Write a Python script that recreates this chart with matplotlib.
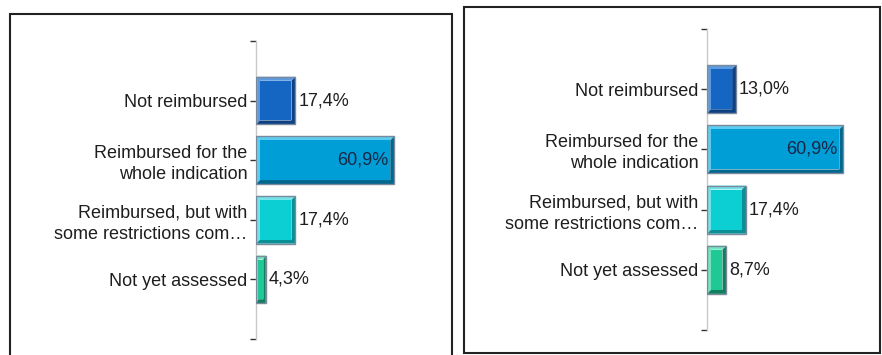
import matplotlib
matplotlib.use("Agg")
import matplotlib.pyplot as plt
from matplotlib.patches import Rectangle, Polygon

plt.rcParams["font.family"] = ["Liberation Sans", "DejaVu Sans"]

categories = [
    "Not reimbursed",
    "Reimbursed for the\nwhole indication",
    "Reimbursed, but with\nsome restrictions com\u2026",
    "Not yet assessed",
]
values_left = [17.4, 60.9, 17.4, 4.3]
values_right = [13.0, 60.9, 17.4, 8.7]
labels_left = ["17,4%", "60,9%", "17,4%", "4,3%"]
labels_right = ["13,0%", "60,9%", "17,4%", "8,7%"]

# face, light bevel, dark bevel
bar_colors = [
    ("#1566c2", "#5d9be0", "#0d4185"),
    ("#009ed6", "#5ccdf0", "#00688f"),
    ("#0ccfd4", "#72e3e8", "#0b8f97"),
    ("#1fc894", "#6fe6bf", "#0f7f5e"),
]

W, H = 882, 355
fig = plt.figure(figsize=(W / 100, H / 100), dpi=100)


def px_rect(x0, y_top, x1, y_bot):
    return [x0 / W, 1 - y_bot / H, (x1 - x0) / W, (y_bot - y_top) / H]


def draw_panel(rect, values, labels, xmax):
    ax = fig.add_axes(rect)
    ax.set_xlim(0, xmax)
    ax.set_ylim(5, 0)
    pos = [1, 2, 3, 4]
    h = 0.8
    ax.barh(pos, values, height=h, color="none", edgecolor="none")

    # bevel thickness in px converted into data units
    ax_w = rect[2] * W
    ax_h = rect[3] * H
    bx = 4 * xmax / ax_w
    by = 4 * 5 / ax_h

    for y, v, (face, light, dark), lab in zip(pos, values, bar_colors, labels):
        yt, yb = y - h / 2, y + h / 2
        bxx = min(bx, v / 4)
        ax.add_patch(Polygon([(0, yt), (v, yt), (v - bxx, yt + by), (bxx, yt + by),
                              (bxx, yb - by), (0, yb)], closed=True,
                             facecolor=light, edgecolor="none", zorder=2))
        ax.add_patch(Polygon([(v, yt), (v, yb), (0, yb), (bxx, yb - by),
                              (v - bxx, yb - by), (v - bxx, yt + by)], closed=True,
                             facecolor=dark, edgecolor="none", zorder=2))
        ax.add_patch(Rectangle((bxx, yt + by), v - 2 * bxx, h - 2 * by,
                               facecolor=face, edgecolor="none", zorder=3))
        ax.add_patch(Rectangle((0, yt), v, h, facecolor="none",
                               edgecolor="#7a8a9c", lw=1.0, zorder=4))
        if v > 40:
            ax.annotate(lab, (v, y), xytext=(-4, 0), textcoords="offset points",
                        ha="right", va="center", fontsize=13, color="#1a2646",
                        zorder=5)
        else:
            ax.annotate(lab, (v, y), xytext=(2, 0), textcoords="offset points",
                        ha="left", va="center", fontsize=13, color="#1e1e1e",
                        zorder=5)

    ax.set_yticks([0, 1, 2, 3, 4, 5])
    ax.set_yticklabels([""] + categories + [""], fontsize=13, color="#1e1e1e",
                       linespacing=1.3)
    ax.tick_params(axis="y", direction="out", length=4, width=1,
                   color="#333333", pad=2)
    ax.set_xticks([])
    for s in ["top", "right", "bottom"]:
        ax.spines[s].set_visible(False)
    ax.spines["left"].set_color("#c8c8c8")
    ax.spines["left"].set_linewidth(1.0)
    ax.patch.set_alpha(0)
    return ax


# left panel: axis at x=256 px, 2.27 px per %, ticks from y=41 to y=339
draw_panel(px_rect(256, 41, 256 + 70 * 2.27, 339), values_left, labels_left, 70)
# right panel: axis at x=707 px, 2.24 px per %, ticks from y=29 to y=330
draw_panel(px_rect(707, 29, 707 + 70 * 2.24, 330), values_right, labels_right, 70)

# panel frames
fig.add_artist(Rectangle((10 / W, 1 - 360 / H), 442 / W, 346 / H,
                         transform=fig.transFigure, facecolor="none",
                         edgecolor="#222222", lw=1.5))
fig.add_artist(Rectangle((464 / W, 1 - 353 / H), 416 / W, 346 / H,
                         transform=fig.transFigure, facecolor="none",
                         edgecolor="#222222", lw=1.5))

fig.savefig("out.png", dpi=100)
